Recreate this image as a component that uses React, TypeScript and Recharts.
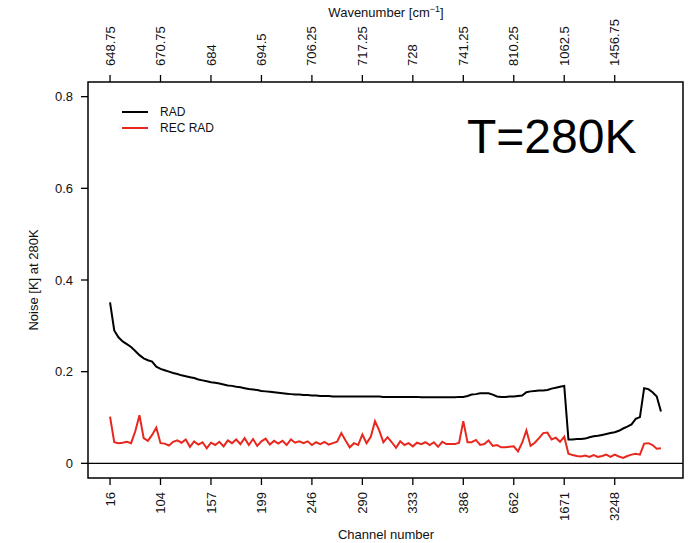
import React from "react";
import { LineChart, Line, XAxis, YAxis, ReferenceLine, ReferenceArea } from "recharts";

// channel labels (bottom) and wavenumber labels (top), one every 12 points
const channelLabels = ["16", "104", "157", "199", "246", "290", "333", "386", "662", "1671", "3248"];
const wavenumberLabels = ["648.75", "670.75", "684", "694.5", "706.25", "717.25", "728", "741.25", "810.25", "1062.5", "1456.75"];
const tickStep = 12;

const rad = [
  0.351, 0.290, 0.275, 0.266, 0.260, 0.254, 0.245, 0.236, 0.229, 0.225,
  0.222, 0.211, 0.206, 0.203, 0.200, 0.197, 0.195, 0.192, 0.190, 0.188,
  0.186, 0.183, 0.181, 0.179, 0.177, 0.176, 0.174, 0.172, 0.170, 0.169,
  0.167, 0.166, 0.164, 0.162, 0.161, 0.160, 0.158, 0.157, 0.156, 0.155,
  0.154, 0.153, 0.152, 0.151, 0.150, 0.150, 0.149, 0.149, 0.148, 0.148,
  0.147, 0.147, 0.147, 0.146, 0.146, 0.146, 0.146, 0.146, 0.146, 0.146,
  0.146, 0.146, 0.146, 0.146, 0.146, 0.145, 0.145, 0.145, 0.145, 0.145,
  0.145, 0.145, 0.145, 0.145, 0.144, 0.144, 0.144, 0.144, 0.144, 0.144,
  0.144, 0.144, 0.144, 0.145, 0.145, 0.147, 0.150, 0.151, 0.153, 0.153,
  0.153, 0.150, 0.146, 0.145, 0.145, 0.146, 0.146, 0.147, 0.148, 0.155,
  0.157, 0.158, 0.159, 0.159, 0.160, 0.163, 0.165, 0.167, 0.169, 0.052,
  0.052, 0.053, 0.053, 0.054, 0.057, 0.059, 0.060, 0.062, 0.064, 0.066,
  0.068, 0.071, 0.076, 0.080, 0.085, 0.097, 0.101, 0.164, 0.162, 0.155,
  0.146, 0.113,
];

const recRad = [
  0.102, 0.046, 0.044, 0.045, 0.047, 0.044, 0.070, 0.105, 0.055, 0.049,
  0.062, 0.078, 0.044, 0.043, 0.039, 0.047, 0.050, 0.045, 0.052, 0.036,
  0.048, 0.041, 0.046, 0.033, 0.045, 0.040, 0.047, 0.037, 0.050, 0.044,
  0.052, 0.042, 0.055, 0.040, 0.053, 0.038, 0.048, 0.054, 0.041, 0.049,
  0.043, 0.049, 0.040, 0.052, 0.045, 0.048, 0.044, 0.048, 0.040, 0.046,
  0.042, 0.047, 0.041, 0.044, 0.047, 0.066, 0.050, 0.035, 0.044, 0.040,
  0.063, 0.044, 0.058, 0.092, 0.072, 0.046, 0.057, 0.046, 0.034, 0.048,
  0.040, 0.044, 0.037, 0.045, 0.042, 0.046, 0.040, 0.046, 0.036, 0.047,
  0.042, 0.042, 0.042, 0.045, 0.092, 0.046, 0.046, 0.051, 0.040, 0.042,
  0.050, 0.038, 0.040, 0.035, 0.035, 0.036, 0.037, 0.026, 0.045, 0.072,
  0.038, 0.045, 0.055, 0.066, 0.067, 0.052, 0.056, 0.047, 0.058, 0.021,
  0.018, 0.016, 0.015, 0.017, 0.014, 0.018, 0.014, 0.016, 0.019, 0.014,
  0.019, 0.015, 0.012, 0.016, 0.019, 0.021, 0.019, 0.043, 0.044, 0.040,
  0.032, 0.033,
];

const yTicks = [0, 0.2, 0.4, 0.6, 0.8];

const rows = rad.map((v, i) => ({ idx: i, rad: v, recRad: recRad[i] }));
const n = rows.length;
const pad = 0.04 * (n - 1);
const xDomain = [-pad, n - 1 + pad];
const yDomain = [-0.032, 0.832];
const xTicks = channelLabels.map((_, k) => k * tickStep);

const FONT = "'Liberation Sans', Arial, Helvetica, sans-serif";
const RED = "#e8281e";

function BottomTick(props: any) {
  const { x, y, payload } = props;
  return (
    <text x={x} y={y} transform={`rotate(-90 ${x} ${y})`} textAnchor="end" dy="0.35em"
      fontSize={13} fontFamily={FONT} fill="#111">
      {channelLabels[Math.round(payload.value / tickStep)]}
    </text>
  );
}

function TopTick(props: any) {
  const { x, y, payload } = props;
  return (
    <text x={x} y={y} transform={`rotate(-90 ${x} ${y})`} textAnchor="start" dy="0.35em"
      fontSize={13} fontFamily={FONT} fill="#111">
      {wavenumberLabels[Math.round(payload.value / tickStep)]}
    </text>
  );
}

function LeftTick(props: any) {
  const { x, y, payload } = props;
  return (
    <text x={x} y={y} textAnchor="end" dy="0.35em" fontSize={13} fontFamily={FONT} fill="#111">
      {payload.value === 0 ? "0" : payload.value.toFixed(1)}
    </text>
  );
}

export default function App() {
  return (
    <div style={{ position: "absolute", left: 0, top: 0, width: 695, height: 543, background: "#fff" }}>
      <LineChart width={695} height={543} data={rows} margin={{ top: 22, right: 12, bottom: 15, left: 28 }}>
        <XAxis xAxisId="bottom" orientation="bottom" type="number" dataKey="idx" domain={xDomain}
          ticks={xTicks} interval={0} height={50} tickSize={7} tickMargin={7} axisLine={false}
          tickLine={{ stroke: "#000", strokeWidth: 1.3 }} tick={<BottomTick />} allowDataOverflow />
        <XAxis xAxisId="top" orientation="top" type="number" dataKey="idx" domain={xDomain}
          ticks={xTicks} interval={0} height={60} tickSize={7} tickMargin={9} axisLine={false}
          tickLine={{ stroke: "#000", strokeWidth: 1.3 }} tick={<TopTick />} allowDataOverflow />
        <YAxis yAxisId="left" type="number" domain={yDomain} ticks={yTicks} interval={0} width={60}
          tickSize={7} tickMargin={8} axisLine={false} tickLine={{ stroke: "#000", strokeWidth: 1.3 }}
          tick={<LeftTick />} allowDataOverflow />
        <ReferenceArea xAxisId="bottom" yAxisId="left" x1={xDomain[0]} x2={xDomain[1]} y1={yDomain[0]} y2={yDomain[1]}
          fill="none" fillOpacity={0} stroke="#000" strokeWidth={1.5} ifOverflow="visible" />
        <ReferenceLine xAxisId="bottom" yAxisId="left" y={0} stroke="#000" strokeWidth={1.3} />
        <Line xAxisId="bottom" yAxisId="left" type="linear" dataKey="rad" stroke="#000" strokeWidth={2}
          dot={false} isAnimationActive={false} />
        <Line xAxisId="bottom" yAxisId="left" type="linear" dataKey="recRad" stroke={RED} strokeWidth={2}
          dot={false} isAnimationActive={false} />
      </LineChart>
      <svg width={695} height={543} style={{ position: "absolute", left: 0, top: 0, pointerEvents: "none" }}
        fontFamily={FONT}>
        <text x={386} y={17} textAnchor="middle" fontSize={13} fill="#111">
          Wavenumber [cm<tspan fontSize={9} dy={-5}>−1</tspan><tspan dy={5}>]</tspan>
        </text>
        <text x={386} y={539} textAnchor="middle" fontSize={13} fill="#111">Channel number</text>
        <text x={38} y={280} transform="rotate(-90 38 280)" textAnchor="middle" fontSize={13} fill="#111">
          Noise [K] at 280K
        </text>
        <text x={467} y={153} fontSize={48} fill="#000">T=280K</text>
        <line x1={122} x2={148} y1={112} y2={112} stroke="#000" strokeWidth={2} />
        <line x1={122} x2={148} y1={128} y2={128} stroke={RED} strokeWidth={2} />
        <text x={160} y={112} dy="0.35em" fontSize={12} fill="#111">RAD</text>
        <text x={160} y={128} dy="0.35em" fontSize={12} fill="#111">REC RAD</text>
      </svg>
    </div>
  );
}
